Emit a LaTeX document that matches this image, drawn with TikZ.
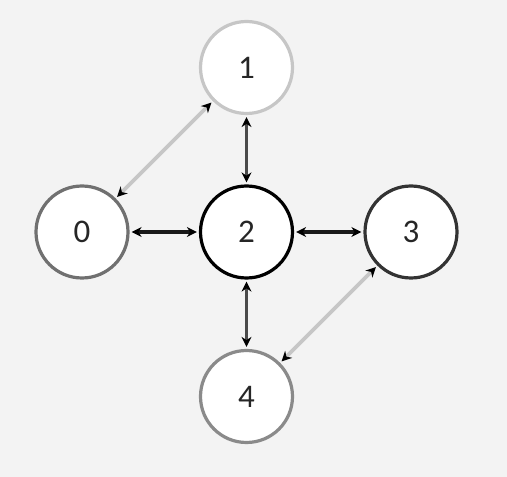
\documentclass[tikz,border=0pt]{standalone}
\usepackage{fontspec}
\setmainfont{Carlito}
\usetikzlibrary{positioning, arrows.meta}
\definecolor{bgcol}{HTML}{F3F3F3}
\definecolor{faint}{HTML}{C6C6C6}
\definecolor{mid}{HTML}{707070}
\definecolor{dim}{HTML}{8A8A8A}
\definecolor{deep}{HTML}{333333}
\definecolor{darkline}{HTML}{4A4A4A}

\begin{document}
\begin{tikzpicture}[<->, >={Stealth[length=10pt, width=10pt, color=black]},
      x=1pt, y=1pt, node distance=164.5pt, on grid,
      vertex/.style={circle, draw, fill=white, line width=3.2pt,
        minimum size=92pt, inner sep=0pt, text=black!85,
        font=\fontsize{33}{33}\selectfont},
      link/.style={line width=3.6pt, shorten <=2pt, shorten >=2pt}]
    \fill[bgcol] (0,0) rectangle (507,477);
    \useasboundingbox (0,0) rectangle (507,477);

    \node[vertex, draw=black] (v2) at (246.5,245) {2};
    \node[vertex, draw=faint] (v1) [above=of v2] {1};
    \node[vertex, draw=mid] (v0) [left=of v2] {0};
    \node[vertex, draw=deep] (v3) [right=of v2] {3};
    \node[vertex, draw=dim] (v4) [below=of v2] {4};

    \path (v0) edge [link, faint] (v1)
          (v2) edge [link, darkline] (v1)
          (v0) edge [link, black!90] (v2)
          (v2) edge [link, black!90] (v3)
          (v2) edge [link, darkline] (v4)
          (v4) edge [link, faint] (v3);
  \end{tikzpicture}
\end{document}
